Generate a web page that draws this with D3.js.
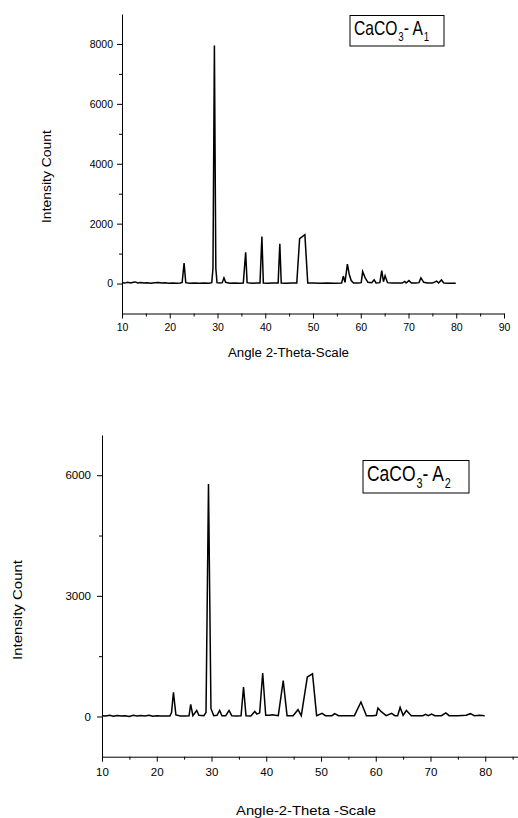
<!DOCTYPE html>
<html>
<head>
<meta charset="utf-8">
<script src="https://cdn.jsdelivr.net/npm/d3@7"></script>
<style>
  body { margin: 0; background: #fff; }
  svg { display: block; font-family: "Liberation Sans", Arial, sans-serif; }
  .axis path, .axis line { stroke: #000; stroke-width: 1; }
  .axis text { fill: #000; }
</style>
</head>
<body>
<div id="chart"></div>
<script>
// sample A1 : angle (2-theta) and intensity count
var a1Theta = [10.0,10.6,11.2,11.8,12.4,12.8,13.3,13.9,14.6,15.3,16.0,16.8,17.6,18.3,19.0,19.8,20.6,21.4,22.2,22.6,23.0,23.35,24.2,25.2,26.2,27.2,28.2,28.8,29.05,29.35,29.65,29.9,30.5,31.0,31.35,31.7,32.6,33.6,34.6,35.4,35.9,36.2,37.2,38.2,38.9,39.3,39.6,40.6,41.6,42.7,43.05,43.35,44.4,45.5,46.6,47.2,48.3,48.9,50.0,51.5,53.0,54.5,56.0,56.35,56.7,57.2,57.6,58.0,58.5,59.5,60.1,60.4,60.9,61.5,62.3,62.8,63.2,64.0,64.4,64.75,65.1,65.6,66.5,67.5,68.7,69.2,69.5,70.1,70.6,71.5,72.2,72.6,73.2,74.0,75.0,75.9,76.3,76.9,77.4,78.5,79.9];
var a1Count = [30,15,40,20,45,55,20,35,15,30,10,25,35,15,25,10,20,10,20,40,680,30,10,20,10,15,10,30,500,7950,500,30,15,30,190,40,10,15,10,20,1045,30,10,15,20,1570,20,10,15,20,1330,20,10,15,20,1500,1630,20,15,10,15,10,20,250,40,650,300,100,20,15,30,400,200,40,30,125,20,30,435,60,260,30,15,20,15,70,20,100,20,15,30,190,40,20,15,80,20,120,20,10,10];

// sample A2
var a2Theta = [10.0,10.7,11.4,12.1,12.8,13.5,14.2,15.0,15.7,16.4,17.1,17.8,18.6,19.3,20.0,20.8,21.6,22.4,22.7,23.05,23.5,24.3,25.2,25.9,26.2,26.6,27.3,27.7,28.6,29.0,29.45,29.9,30.4,31.0,31.5,31.9,32.6,33.2,33.7,34.6,35.4,35.85,36.3,37.2,37.9,38.3,38.8,39.35,39.9,40.6,41.1,42.2,43.1,43.8,44.9,45.8,46.4,47.5,48.45,49.2,50.2,50.8,52.0,52.5,53.2,54.5,56.1,57.3,58.3,59.5,60.1,60.4,61.0,61.9,62.9,63.5,64.0,64.45,65.0,65.6,66.5,67.5,68.6,69.1,69.6,70.2,70.8,72.0,72.8,73.4,75.0,76.5,77.3,78.0,79.0,79.9];
var a2Count = [20,10,30,5,25,10,20,0,30,15,25,10,30,5,20,10,15,10,100,600,40,10,15,20,300,20,150,30,20,100,5780,200,20,30,150,20,20,150,20,15,20,730,20,15,125,60,90,1080,30,30,45,20,890,20,20,170,20,980,1060,20,80,20,20,70,20,20,20,360,20,20,30,210,120,20,80,20,20,225,30,150,20,20,20,55,20,60,20,20,90,20,20,30,70,20,30,20];

// ticks
var topXTicks = [10,20,30,40,50,60,70,80,90];
var topXMinor = [15,25,35,45,55,65,75,85];
var topYTicks = [0,2000,4000,6000,8000];
var topYMinor = [1000,3000,5000,7000];
var botXTicks = [10,20,30,40,50,60,70,80];
var botXMinor = [15,25,35,45,55,65,75,85];
var botYTicks = [0,3000,6000];
var botYMinor = [1500,4500];

var W = 518, H = 818;
var svg = d3.select("#chart").append("svg")
    .attr("width", W)
    .attr("height", H);

function drawPanel(p) {
    var x = d3.scaleLinear().domain(p.xDomain).range(p.xRange);
    var y = d3.scaleLinear().domain(p.yDomain).range(p.yRange);
    var g = svg.append("g");

    // minor ticks first (no labels)
    g.append("g").attr("class", "axis")
        .attr("transform", "translate(0," + p.yRange[0] + ")")
        .call(d3.axisBottom(x).tickValues(p.xMinor).tickSize(3).tickFormat(""))
        .select(".domain").remove();
    g.append("g").attr("class", "axis")
        .attr("transform", "translate(" + p.xRange[0] + ",0)")
        .call(d3.axisLeft(y).tickValues(p.yMinor).tickSize(3).tickFormat(""))
        .select(".domain").remove();

    var xa = g.append("g").attr("class", "axis")
        .attr("transform", "translate(0," + p.yRange[0] + ")")
        .call(d3.axisBottom(x).tickValues(p.xTicks).tickSize(5).tickSizeOuter(0).tickPadding(p.xPad).tickFormat(d3.format("d")));
    xa.selectAll("text").style("font-size", p.tickFont + "px");

    var ya = g.append("g").attr("class", "axis")
        .attr("transform", "translate(" + p.xRange[0] + ",0)")
        .call(d3.axisLeft(y).tickValues(p.yTicks).tickSize(5).tickSizeOuter(0).tickPadding(p.yPad).tickFormat(d3.format("d")));
    ya.selectAll("text").style("font-size", p.tickFont + "px");

    var pts = p.theta.map(function(t, i) { return [t, p.count[i]]; });
    var line = d3.line()
        .x(function(d) { return x(d[0]); })
        .y(function(d) { return y(d[1]); });
    g.append("path")
        .datum(pts)
        .attr("fill", "none")
        .attr("stroke", "#000")
        .attr("stroke-width", 1.5)
        .attr("stroke-linejoin", "miter")
        .attr("d", line);

    // axis titles
    g.append("text")
        .attr("x", p.xTitle[0]).attr("y", p.xTitle[1])
        .attr("text-anchor", "middle")
        .attr("textLength", p.xTitle[2])
        .attr("lengthAdjust", "spacingAndGlyphs")
        .style("font-size", p.titleFont + "px")
        .text(p.xLabel);
    g.append("text")
        .attr("transform", "translate(" + p.yTitle[0] + "," + p.yTitle[1] + ") rotate(-90)")
        .attr("text-anchor", "middle")
        .attr("textLength", p.yTitle[2])
        .attr("lengthAdjust", "spacingAndGlyphs")
        .style("font-size", p.titleFont + "px")
        .text("Intensity Count");

    // label box
    var b = p.box;
    g.append("rect")
        .attr("x", b[0]).attr("y", b[1]).attr("width", b[2]).attr("height", b[3])
        .attr("fill", "#fff").attr("stroke", "#000").attr("stroke-width", 1);
    var t = g.append("text")
        .attr("transform", "translate(" + (b[0] + 4) + "," + (b[1] + b[3] * 0.64) + ") scale(0.92,1.18)")
        .style("font-size", p.boxFont + "px");
    t.append("tspan").text("CaCO");
    t.append("tspan").attr("dx", 1).attr("dy", p.boxFont * 0.32).style("font-size", (p.boxFont * 0.62) + "px").text("3");
    t.append("tspan").attr("dy", -p.boxFont * 0.32).text("- A");
    t.append("tspan").attr("dx", 1).attr("dy", p.boxFont * 0.32).style("font-size", (p.boxFont * 0.62) + "px").text(p.sub);
}

drawPanel({
    theta: a1Theta, count: a1Count,
    xDomain: [10, 90], xRange: [122, 504],
    yDomain: [-1000, 9000], yRange: [313.5, 14],
    xTicks: topXTicks, xMinor: topXMinor, yTicks: topYTicks, yMinor: topYMinor,
    tickFont: 10.5, titleFont: 12, xPad: 5, yPad: 4,
    xLabel: "Angle 2-Theta-Scale", xTitle: [288.5, 357, 121],
    yTitle: [50.5, 176.5, 93],
    box: [350, 15.5, 94, 30.5], boxFont: 17, sub: "1"
});

drawPanel({
    theta: a2Theta, count: a2Count,
    xDomain: [10, 90], xRange: [102, 540],
    yDomain: [-1000, 7000], yRange: [756.7, 435],
    xTicks: botXTicks, xMinor: botXMinor, yTicks: botYTicks, yMinor: botYMinor,
    tickFont: 11.5, titleFont: 13, xPad: 6, yPad: 6,
    xLabel: "Angle-2-Theta -Scale", xTitle: [306, 815, 140],
    yTitle: [22, 610, 100],
    box: [363, 460.5, 106, 32.5], boxFont: 19, sub: "2"
});
</script>
</body>
</html>
